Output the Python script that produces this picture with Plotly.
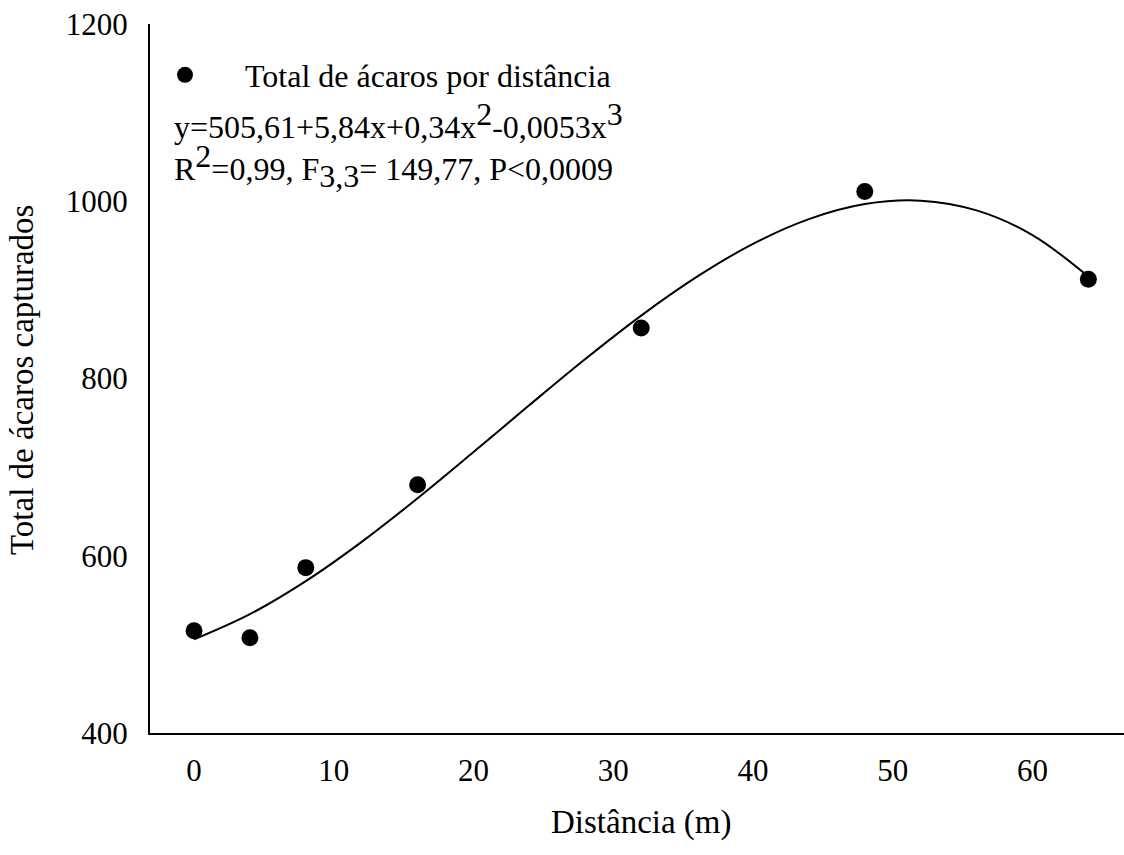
import plotly.graph_objects as go

# Observed data
distancia = [0, 4, 8, 16, 32, 48, 64]
total_acaros = [515.5, 507.6, 586.6, 680, 857, 1011, 912]

# Fitted curve
curve_x = [0, 4, 8, 12, 16, 20, 24, 28, 32, 36, 40, 44, 48, 52, 56, 60, 64]
curve_y = [505.6, 534.1, 571.4, 615.7, 664.9, 717.0, 770.0, 822.0, 871.0, 914.9,
           951.9, 979.8, 996.8, 1000.7, 989.7, 961.8, 915.0]

x_ticks = [0, 10, 20, 30, 40, 50, 60]
y_ticks = [400, 600, 800, 1000, 1200]

FONT = "Liberation Serif"
L, R, T, B = 150, 0, 24, 122
W, H = 1124, 855
PW, PH = W - L - R, H - T - B

def px(x):
    return (x - L) / PW

def py(y):
    return (H - B - y) / PH

TXT = 32
def sup(s):
    return '<sup><span style="font-size:%dpx">%s</span></sup>' % (TXT, s)

def sub(s):
    return '<sub><span style="font-size:%dpx">%s</span></sub>' % (TXT, s)

fig = go.Figure()
fig.add_trace(go.Scatter(
    x=curve_x, y=curve_y, mode="lines", line=dict(color="black", width=2, shape="spline", smoothing=1.0),
    showlegend=False, hoverinfo="skip"))
fig.add_trace(go.Scatter(
    x=distancia, y=total_acaros, mode="markers",
    marker=dict(color="black", size=17),
    name="\u00a0" * 5 + "Total de ácaros por distância"))

fig.update_layout(
    width=W, height=H,
    margin=dict(l=L, r=R, t=T, b=B),
    paper_bgcolor="white", plot_bgcolor="white",
    font=dict(family=FONT, size=31, color="black"),
    showlegend=True,
    legend=dict(x=px(165), y=py(75), xanchor="left", yanchor="middle",
                bgcolor="rgba(0,0,0,0)", font=dict(size=TXT, family=FONT),
                itemwidth=30, borderwidth=0),
    xaxis=dict(range=[-3.15, 66.55], tickvals=x_ticks, showgrid=False, zeroline=False,
               showline=True, linecolor="black", linewidth=2, ticks="",
               ticklabelstandoff=9, tickfont=dict(size=31, family=FONT)),
    yaxis=dict(range=[400, 1200], tickvals=y_ticks, showgrid=False, zeroline=False,
               showline=True, linecolor="black", linewidth=2, ticks="",
               ticklabelstandoff=14, tickfont=dict(size=31, family=FONT)),
    annotations=[
        dict(text="y=505,61+5,84x+0,34x" + sup("2") + "-0,0053x" + sup("3"), xref="paper", yref="paper",
             x=px(172), y=py(120), xanchor="left", yanchor="middle", showarrow=False,
             font=dict(size=TXT, family=FONT)),
        dict(text="R" + sup("2") + "=0,99, F" + sub("3,3") + "= 149,77, P<0,0009", xref="paper", yref="paper",
             x=px(172), y=py(166), xanchor="left", yanchor="middle", showarrow=False,
             font=dict(size=TXT, family=FONT)),
        dict(text="Distância (m)", xref="paper", yref="paper", x=px(641), y=py(822),
             xanchor="center", yanchor="middle", showarrow=False, font=dict(size=33, family=FONT)),
        dict(text="Total de ácaros capturados", xref="paper", yref="paper", x=px(22), y=py(380),
             xanchor="center", yanchor="middle", textangle=-90, showarrow=False,
             font=dict(size=33, family=FONT)),
    ],
)

fig.write_html("out.html")
